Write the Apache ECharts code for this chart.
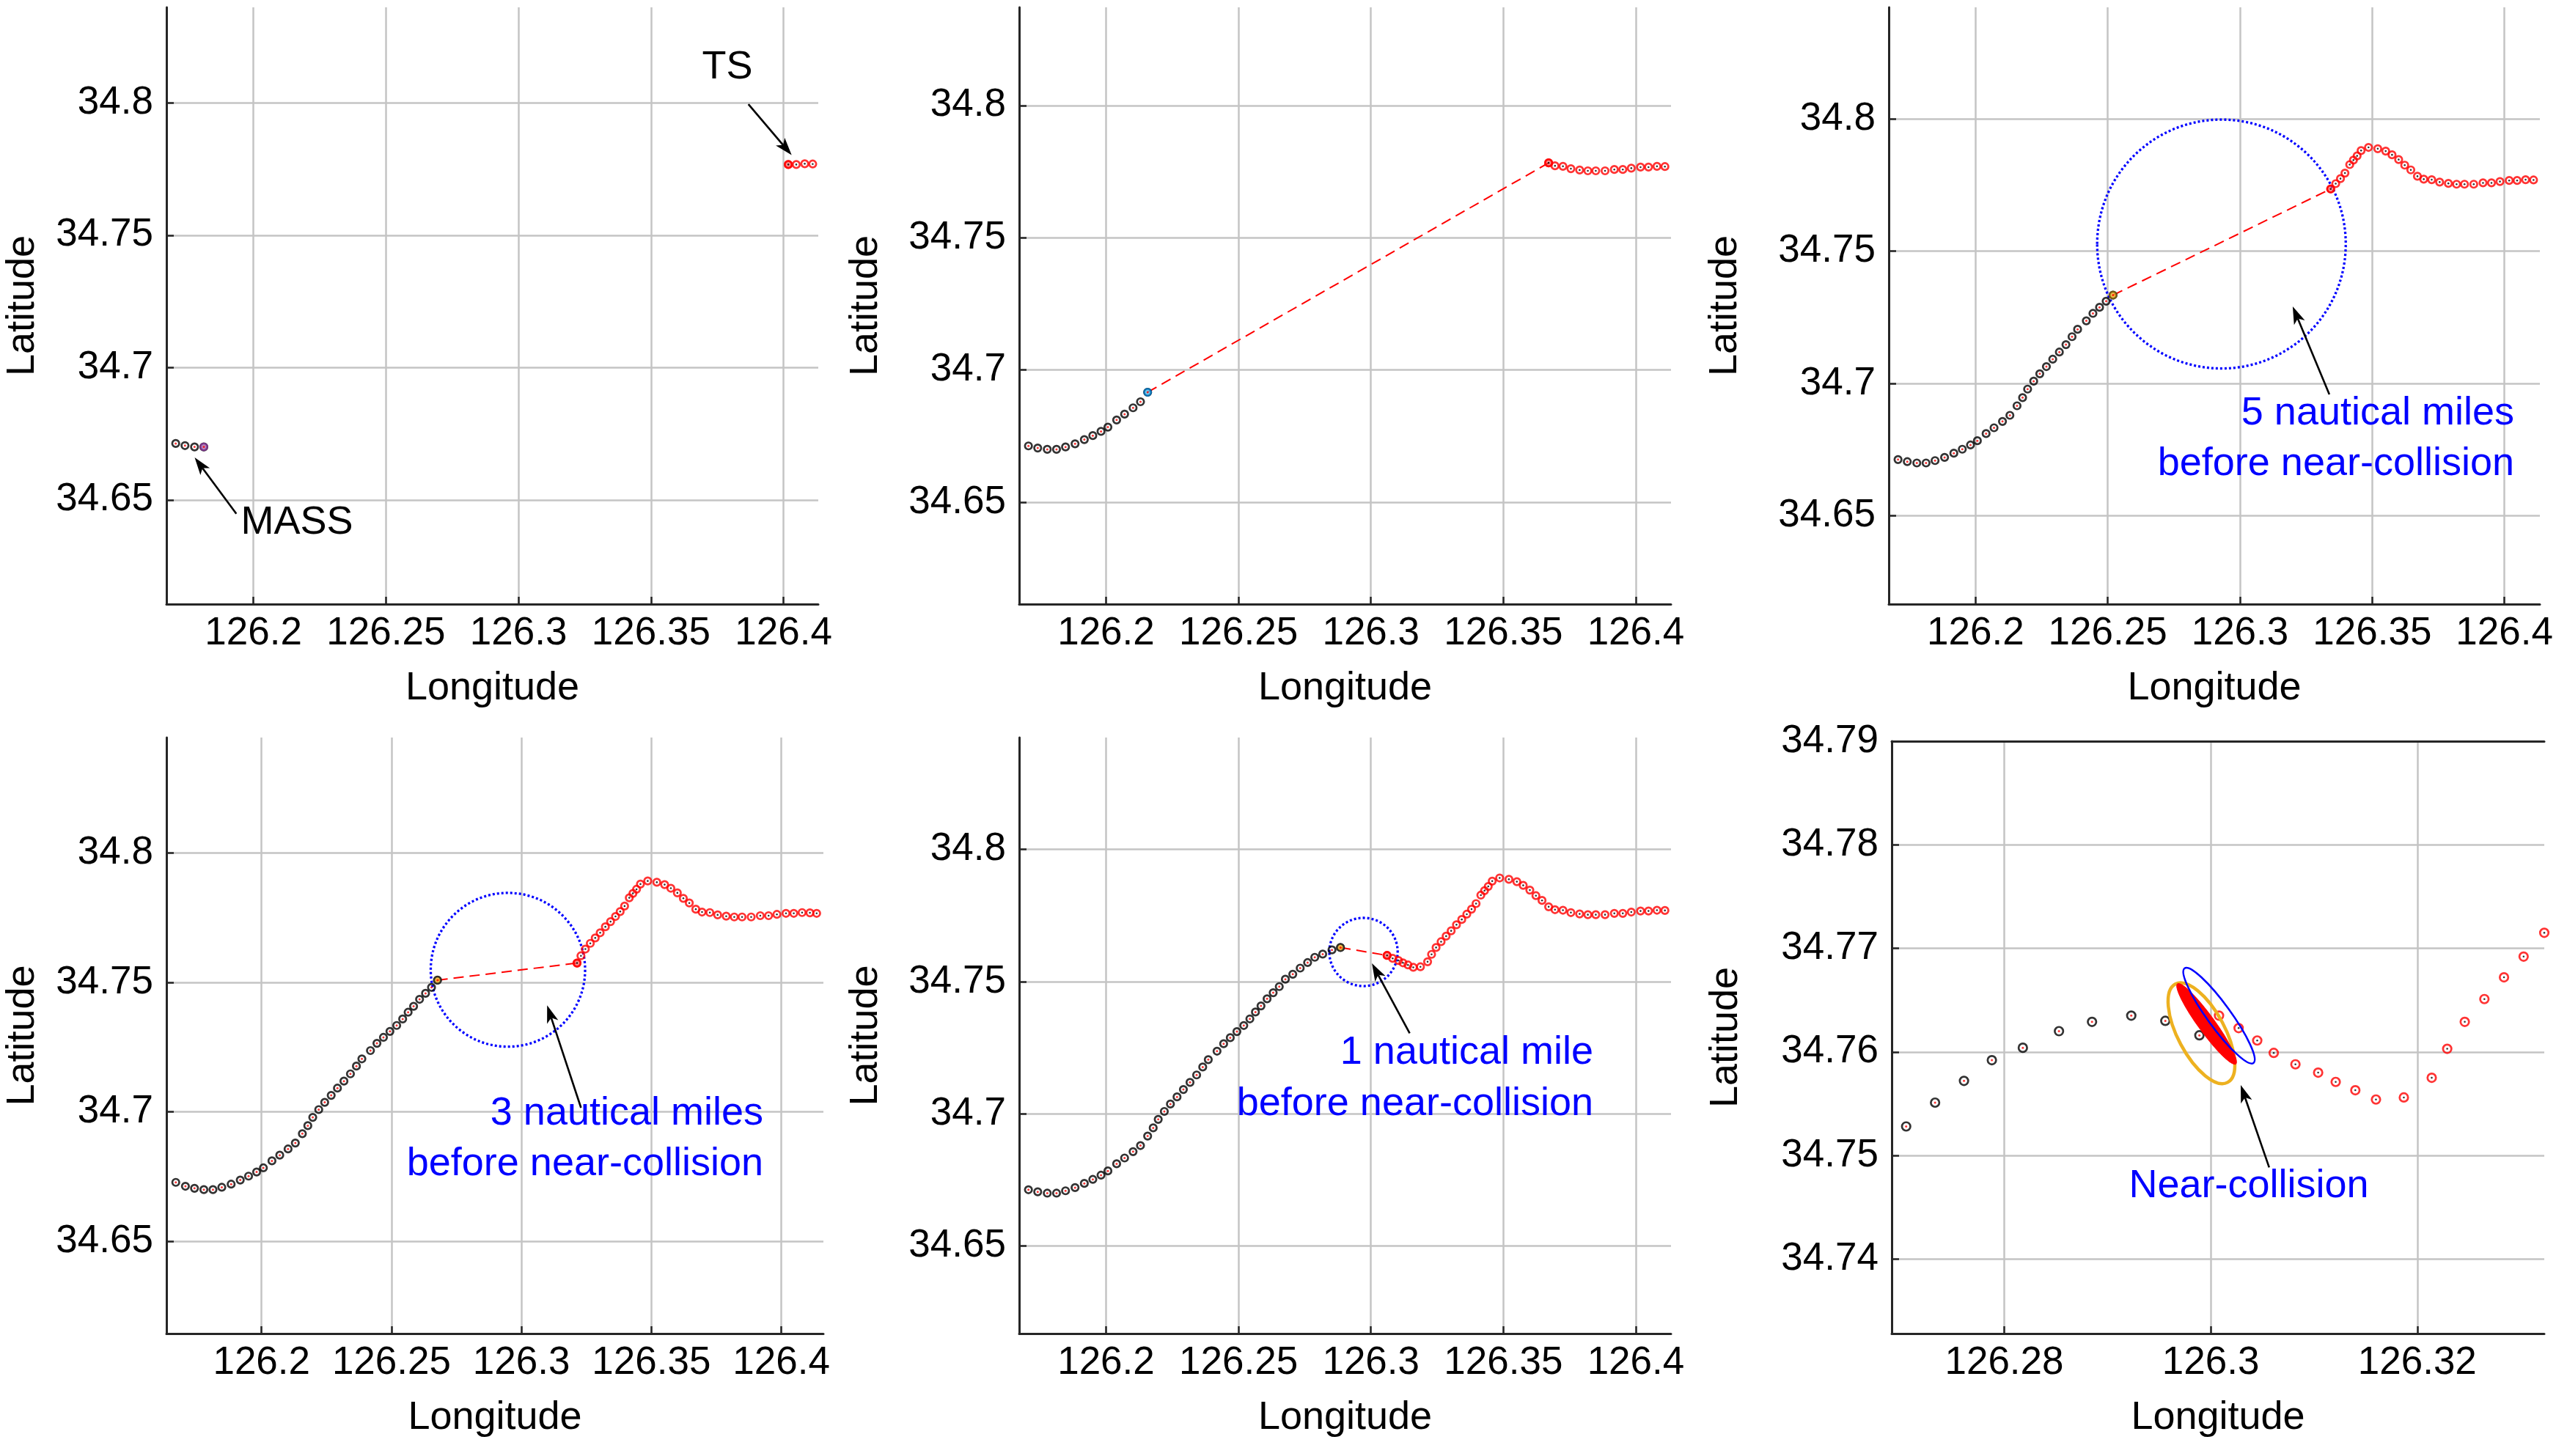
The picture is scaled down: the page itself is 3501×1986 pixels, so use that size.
<!DOCTYPE html>
<html>
<head>
<meta charset="utf-8">
<script src="https://cdn.jsdelivr.net/npm/echarts@6/dist/echarts.min.js"></script>
<style>
  html, body { margin: 0; padding: 0; background: #fff; }
  #chart { width: 3501px; height: 1986px; }
</style>
</head>
<body>
<div id="chart"></div>
<script>
const FONT = '"Liberation Sans", Arial, Helvetica, sans-serif'

// MASS (own ship) track, oldest point first
const massLon = [
  126.1670, 126.1707, 126.1742, 126.1778, 126.1813, 126.1847, 126.1883, 126.1918,
  126.1950, 126.1981, 126.2007, 126.2040, 126.2070, 126.2102, 126.2130, 126.2157,
  126.2178, 126.2197, 126.2220, 126.2243, 126.2268, 126.2292, 126.2317, 126.2342,
  126.2365, 126.2386, 126.2419, 126.2444, 126.2469, 126.2494, 126.2520, 126.2543,
  126.2564, 126.2585, 126.2608, 126.2631, 126.2654, 126.2677, 126.2705, 126.2733,
  126.2761, 126.2788, 126.2818, 126.2853, 126.2885, 126.2923, 126.2956, 126.2989,
]
const massLat = [
  34.6728, 34.6713, 34.6705, 34.6700, 34.6700, 34.6709, 34.6721, 34.6737,
  34.6752, 34.6768, 34.6784, 34.6811, 34.6833, 34.6857, 34.6880, 34.6916,
  34.6947, 34.6979, 34.7009, 34.7037, 34.7064, 34.7092, 34.7119, 34.7147,
  34.7177, 34.7205, 34.7237, 34.7265, 34.7288, 34.7311, 34.7334, 34.7359,
  34.7385, 34.7408, 34.7435, 34.7458, 34.7481, 34.7509, 34.7528, 34.7551,
  34.7572, 34.7592, 34.7604, 34.7620, 34.7629, 34.7635, 34.7630, 34.7616,
]

// target ship (TS) track, oldest point first
const tsLon = [
  126.4136, 126.4110, 126.4080, 126.4048, 126.4018, 126.3983, 126.3951, 126.3919,
  126.3884, 126.3849, 126.3819, 126.3788, 126.3755, 126.3725, 126.3695, 126.3671,
  126.3646, 126.3623, 126.3600, 126.3575, 126.3551, 126.3521, 126.3486, 126.3458,
  126.3443, 126.3429, 126.3415, 126.3397, 126.3380, 126.3362, 126.3343, 126.3323,
  126.3303, 126.3284, 126.3265, 126.3246, 126.3229, 126.3214, 126.3187, 126.3160,
  126.3140, 126.3121, 126.3104, 126.3082, 126.3061, 126.3045, 126.3027, 126.3008,
]
const tsLat = [
  34.7767, 34.7769, 34.7770, 34.7767, 34.7767, 34.7763, 34.7758, 34.7758,
  34.7753, 34.7753, 34.7753, 34.7756, 34.7761, 34.7770, 34.7772, 34.7783,
  34.7807, 34.7825, 34.7846, 34.7864, 34.7878, 34.7887, 34.7892, 34.7880,
  34.7860, 34.7844, 34.7827, 34.7795, 34.7774, 34.7755, 34.7735, 34.7715,
  34.7692, 34.7672, 34.7651, 34.7629, 34.7603, 34.7575, 34.7556, 34.7554,
  34.7563, 34.7571, 34.7580, 34.7588, 34.7599, 34.7611, 34.7623, 34.7635,
]

// how many track points each panel shows
const panelSteps = [5, 16, 31, 38, 45, 48]

// dotted range rings (panels 3, 4, 5)
const ringPanel = [2, 3, 4]
const ringLon = [126.2930, 126.2948, 126.2972]
const ringLat = [34.7527, 34.7549, 34.7612]
const ringRadius = [0.0470, 0.0297, 0.0129]

// ship domains at the near-collision (panel 6): MASS, TS
const domainLon = [126.2991, 126.3008]
const domainLat = [34.7618, 34.7635]
const domainMajor = [0.00539, 0.00567]
const domainMinor = [0.00227, 0.00113]
const domainAngle = [62, 54]
// overlap patch
const overlapLon = [126.2996]
const overlapLat = [34.7627]
const overlapMajor = [0.0048]
const overlapMinor = [0.0008]
const overlapAngle = [54]

// layout
const boxes = [
  [227, 10, 889, 814],
  [1390, 10, 889, 814],
  [2576, 10, 888, 814],
  [227, 1006, 896, 813],
  [1390, 1006, 889, 813],
  [2580, 1011, 890, 808],
]
const xRanges = [
  [126.1672, 126.4131],
  [126.1672, 126.4133],
  [126.1672, 126.4134],
  [126.1634, 126.4162],
  [126.1672, 126.4133],
  [126.2691, 126.3323],
]
const yRanges = [
  [34.6106, 34.8361],
  [34.6115, 34.8371],
  [34.6167, 34.8421],
  [34.6144, 34.8446],
  [34.6169, 34.8423],
  [34.7328, 34.79],
]
const xStep = [0.05, 0.05, 0.05, 0.05, 0.05, 0.02]
const yStep = [0.05, 0.05, 0.05, 0.05, 0.05, 0.01]
const yNameGap = [169, 182, 196, 169, 182, 199]
const currentFill = ['#A56BB5', '#4DBEEE', '#EDB120', '#EDB120', '#EDB120', null]
const currentEdge = ['#7E2F8E', '#0072BD', '#7a5a10', '#262626', '#262626', null]

const axisColor = '#262626'
const gridColor = '#c4c4c4'

function pts(lon, lat, n) {
  const out = []
  for (let k = 0; k < n; k++) {
    out.push([lon[k], lat[k]])
  }
  return out
}

function ellipseItem(style) {
  return function (params, api) {
    const c = api.coord([api.value(0), api.value(1)])
    const s = api.size([api.value(2), api.value(3)])
    return {
      type: 'ellipse',
      x: c[0],
      y: c[1],
      rotation: (-api.value(4) * Math.PI) / 180,
      shape: { cx: 0, cy: 0, rx: s[0], ry: s[1] },
      style: style,
    }
  }
}

const grids = []
const xAxes = []
const yAxes = []
const series = []

for (let i = 0; i < 6; i++) {
  const b = boxes[i]
  grids.push({ left: b[0], top: b[1], width: b[2], height: b[3] })

  xAxes.push({
    gridIndex: i,
    type: 'value',
    min: xRanges[i][0],
    max: xRanges[i][1],
    splitNumber: 5,
    minInterval: xStep[i],
    maxInterval: xStep[i],
    name: 'Longitude',
    nameLocation: 'middle',
    nameGap: 88,
    nameTextStyle: { fontSize: 54, color: '#000', fontFamily: FONT },
    axisLine: { show: true, onZero: false, lineStyle: { color: axisColor, width: 3 } },
    axisTick: { show: true, inside: true, length: 10, lineStyle: { color: axisColor, width: 2.5 } },
    axisLabel: {
      fontSize: 53,
      color: '#000',
      fontFamily: FONT,
      margin: 14,
      showMinLabel: false,
      showMaxLabel: false,
    },
    splitLine: {
      show: true,
      showMinLine: false,
      showMaxLine: false,
      lineStyle: { color: gridColor, width: 2.5 },
    },
  })

  yAxes.push({
    gridIndex: i,
    type: 'value',
    min: yRanges[i][0],
    max: yRanges[i][1],
    splitNumber: 5,
    minInterval: yStep[i],
    maxInterval: yStep[i],
    name: 'Latitude',
    nameLocation: 'middle',
    nameRotate: 90,
    nameGap: yNameGap[i],
    nameTextStyle: { fontSize: 54, color: '#000', fontFamily: FONT },
    axisLine: { show: true, onZero: false, lineStyle: { color: axisColor, width: 3 } },
    axisTick: { show: true, inside: true, length: 10, lineStyle: { color: axisColor, width: 2.5 } },
    axisLabel: {
      fontSize: 53,
      color: '#000',
      fontFamily: FONT,
      margin: 18,
      showMinLabel: false,
      showMaxLabel: i === 5,
    },
    splitLine: {
      show: true,
      showMinLine: false,
      showMaxLine: false,
      lineStyle: { color: gridColor, width: 2.5 },
    },
  })

  const n = panelSteps[i]
  const mass = pts(massLon, massLat, n)
  const ts = pts(tsLon, tsLat, n)
  const mk = i === 5 ? 11.5 : 9.5
  const ring = 2.7

  // dotted ring round the encounter
  const r = ringPanel.indexOf(i)
  if (r >= 0) {
    series.push({
      type: 'custom',
      xAxisIndex: i,
      yAxisIndex: i,
      silent: true,
      z: 1,
      data: [[ringLon[r], ringLat[r], ringRadius[r], ringRadius[r], 0]],
      renderItem: ellipseItem({ fill: 'none', stroke: '#0000ff', lineWidth: 3.3, lineDash: [3, 3] }),
    })
  }

  // dashed link between the two current positions
  if (i >= 1 && i <= 4) {
    series.push({
      type: 'line',
      xAxisIndex: i,
      yAxisIndex: i,
      silent: true,
      z: 2,
      symbol: 'none',
      data: [mass[n - 1], ts[n - 1]],
      lineStyle: { color: '#ff0000', width: 2, type: [14, 8] },
    })
  }

  series.push({
    type: 'scatter',
    xAxisIndex: i,
    yAxisIndex: i,
    silent: true,
    z: 3,
    symbol: 'circle',
    symbolSize: mk,
    data: mass,
    itemStyle: { color: 'rgba(0,0,0,0)', borderColor: '#000', borderWidth: ring },
  })
  series.push({
    type: 'scatter',
    xAxisIndex: i,
    yAxisIndex: i,
    silent: true,
    z: 3,
    symbol: 'circle',
    symbolSize: mk,
    data: ts,
    itemStyle: { color: 'rgba(0,0,0,0)', borderColor: '#ff0000', borderWidth: ring },
  })

  if (currentFill[i]) {
    series.push({
      type: 'scatter',
      xAxisIndex: i,
      yAxisIndex: i,
      silent: true,
      z: 4,
      symbolSize: mk,
      data: [mass[n - 1]],
      itemStyle: { color: currentFill[i], borderColor: currentEdge[i], borderWidth: 2.4 },
    })
    series.push({
      type: 'scatter',
      xAxisIndex: i,
      yAxisIndex: i,
      silent: true,
      z: 4,
      symbolSize: mk,
      data: [ts[n - 1]],
      itemStyle: { color: 'rgba(255,60,60,0.7)', borderColor: '#ff0000', borderWidth: ring },
    })
  }

  // small centre marks
  series.push({
    type: 'scatter',
    xAxisIndex: i,
    yAxisIndex: i,
    silent: true,
    z: 5,
    symbolSize: 3,
    data: mass,
    itemStyle: { color: '#ff0000' },
  })
  series.push({
    type: 'scatter',
    xAxisIndex: i,
    yAxisIndex: i,
    silent: true,
    z: 5,
    symbolSize: 2.6,
    data: ts,
    itemStyle: { color: '#000' },
  })
}

// top frame line of the zoomed panel
xAxes.push({
  gridIndex: 5,
  type: 'value',
  position: 'top',
  min: xRanges[5][0],
  max: xRanges[5][1],
  axisLine: { show: true, onZero: false, lineStyle: { color: axisColor, width: 3 } },
  axisTick: { show: false },
  axisLabel: { show: false },
  splitLine: { show: false },
})

// ship domains in the zoomed panel
series.push({
  type: 'custom',
  xAxisIndex: 5,
  yAxisIndex: 5,
  silent: true,
  z: 6,
  data: [[domainLon[0], domainLat[0], domainMajor[0], domainMinor[0], domainAngle[0]]],
  renderItem: ellipseItem({ fill: 'none', stroke: '#EDB120', lineWidth: 4.5 }),
})
series.push({
  type: 'custom',
  xAxisIndex: 5,
  yAxisIndex: 5,
  silent: true,
  z: 7,
  data: [[overlapLon[0], overlapLat[0], overlapMajor[0], overlapMinor[0], overlapAngle[0]]],
  renderItem: ellipseItem({ fill: '#ff0000', stroke: '#ff0000', lineWidth: 1 }),
})
series.push({
  type: 'custom',
  xAxisIndex: 5,
  yAxisIndex: 5,
  silent: true,
  z: 8,
  data: [[domainLon[1], domainLat[1], domainMajor[1], domainMinor[1], domainAngle[1]]],
  renderItem: ellipseItem({ fill: 'none', stroke: '#0000ff', lineWidth: 2.5 }),
})

// annotations
function note(text, x, y, align, color) {
  return {
    type: 'text',
    x: x,
    y: y,
    silent: true,
    z: 100,
    style: {
      text: text,
      fill: color,
      font: '54px ' + FONT,
      align: align,
      textAlign: align,
      verticalAlign: 'middle',
      textVerticalAlign: 'middle',
    },
  }
}

function arrow(x1, y1, x2, y2) {
  const dx = x2 - x1
  const dy = y2 - y1
  const len = Math.sqrt(dx * dx + dy * dy)
  const ux = dx / len
  const uy = dy / len
  const L = 24
  const W = 8
  const bx = x2 - ux * L
  const by = y2 - uy * L
  const nx = x2 - ux * L * 0.75
  const ny = y2 - uy * L * 0.75
  return [
    {
      type: 'line',
      silent: true,
      z: 100,
      shape: { x1: x1, y1: y1, x2: nx, y2: ny },
      style: { stroke: '#000', lineWidth: 2.6 },
    },
    {
      type: 'polygon',
      silent: true,
      z: 100,
      shape: { points: [[x2, y2], [bx - uy * W, by + ux * W], [nx, ny], [bx + uy * W, by - ux * W]] },
      style: { fill: '#000' },
    },
  ]
}

const blue = '#0000ff'
const elements = [
  note('TS', 992, 92, 'center', '#000'),
  note('MASS', 405, 713, 'center', '#000'),
  note('5 nautical miles', 3429, 564, 'right', blue),
  note('before near-collision', 3429, 633, 'right', blue),
  note('3 nautical miles', 1041, 1519, 'right', blue),
  note('before near-collision', 1041, 1588, 'right', blue),
  note('1 nautical mile', 2173, 1436, 'right', blue),
  note('before near-collision', 2173, 1506, 'right', blue),
  note('Near-collision', 3067, 1618, 'center', blue),
]
  .concat(arrow(1020.7, 142.1, 1079.7, 211.5))
  .concat(arrow(322.3, 700.8, 265.5, 624))
  .concat(arrow(3176.9, 537.9, 3126.9, 418))
  .concat(arrow(792.4, 1511, 746.2, 1371.2))
  .concat(arrow(1922.6, 1409.3, 1871.1, 1314))
  .concat(arrow(3094.8, 1592.3, 3056, 1480))

const chart = echarts.init(document.getElementById('chart'), null, { renderer: 'canvas' })
chart.setOption({
  animation: false,
  backgroundColor: '#fff',
  textStyle: { fontFamily: FONT },
  grid: grids,
  xAxis: xAxes,
  yAxis: yAxes,
  series: series,
  graphic: { elements: elements },
})
</script>
</body>
</html>
